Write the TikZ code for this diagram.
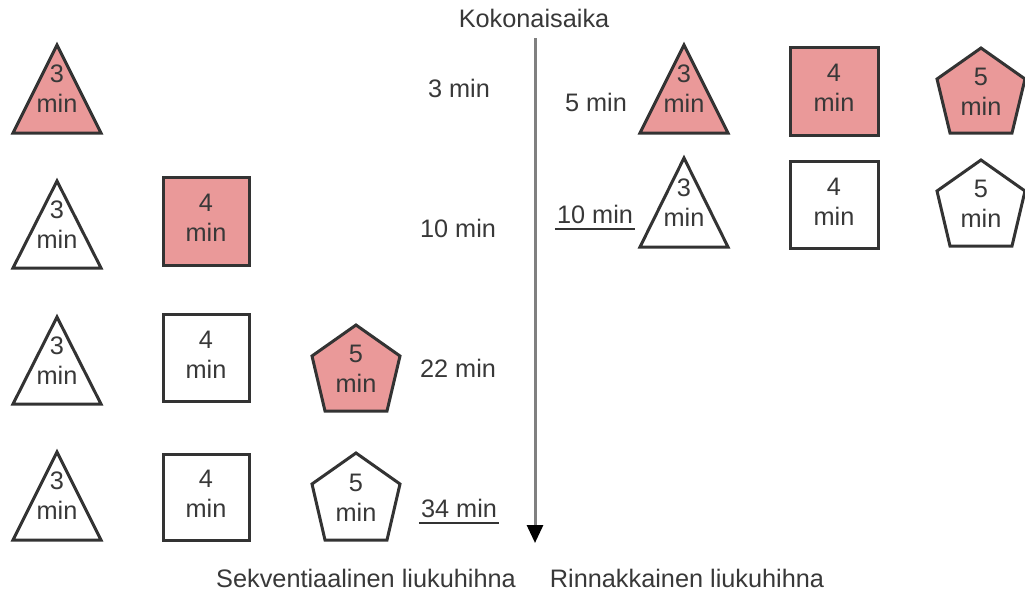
\documentclass[tikz,border=0pt]{standalone}
\usepackage{fontspec}
\setmainfont{Liberation Sans}
\usetikzlibrary{arrows.meta}

\definecolor{pinkfill}{HTML}{EA9999}
\definecolor{edge}{HTML}{333333}
\definecolor{ink}{HTML}{383838}
\definecolor{axisgray}{HTML}{808080}

\tikzset{
  shp/.style={draw=edge, line width=3pt, line join=miter},
  lbl/.style={font=\fontsize{25.3}{30}\selectfont, text=ink, align=center, inner sep=0pt},
  uline/.style={draw=edge, line width=2pt},
  axis/.style={draw=axisgray, line width=3pt, -{Triangle[color=black, length=18pt, width=16pt]}}
}

% triangle: centre x, apex y, base y, fill, node name
\newcommand\trishape[6]{%
  \draw[shp, fill=#4] (#1,#2) -- (#1+44,#3) -- (#1-44,#3) -- cycle;
  \node[lbl] (#5) at (#1,{(#2+#3)/2}) {3\\min};}
% square: left x, top y, right x, bottom y, fill, node name
\newcommand\sqshape[6]{%
  \draw[shp, fill=#5] (#1,#2) rectangle (#3,#4);
  \node[lbl] (#6) at ({(#1+#3)/2},{(#2+#4)/2-3}) {4\\min};}
% pentagon: centre x, top y, bottom y, fill, node name
\newcommand\pentshape[5]{%
  \draw[shp, fill=#4] (#1,#2) -- (#1+44,#2+31) -- (#1+31,#3) -- (#1-31,#3)
    -- (#1-44,#2+31) -- cycle;
  \node[lbl] (#5) at (#1,{(#2+#3)/2+1}) {5\\min};}

\begin{document}
\begin{tikzpicture}[x=1pt, y=-1pt]
\useasboundingbox (0,0) rectangle (1025,592);

% time axis
\node[lbl] (total) at (534,18) {Kokonaisaika};
\coordinate (axtop) at (535,38);
\coordinate (axbot) at (535,543);
\draw[axis] (axtop) -- (axbot);

% sequential pipeline
\trishape{57}{45}{133}{pinkfill}{s1a}{}
\trishape{57}{181}{268}{white}{s2a}{}
\sqshape{163}{177}{249}{265}{pinkfill}{s2b}
\trishape{57}{317}{404}{white}{s3a}{}
\sqshape{163}{314}{249}{401}{white}{s3b}
\pentshape{356}{325}{411}{pinkfill}{s3c}
\trishape{57}{452}{540}{white}{s4a}{}
\sqshape{163}{454}{249}{540}{white}{s4b}
\pentshape{356}{453}{540}{white}{s4c}

\node[lbl] (t3) at (459,88) {3 min};
\node[lbl] (t10) at (458,228) {10 min};
\node[lbl] (t22) at (458,368) {22 min};
\node[lbl] (t34) at (459,508) {34 min};
\draw[uline] ([xshift=-2pt, yshift=-6pt]t34.south west) -- ([xshift=2pt, yshift=-6pt]t34.south east);

% parallel pipeline
\trishape{684}{45}{133}{pinkfill}{p1a}{}
\sqshape{790}{47}{878}{135}{pinkfill}{p1b}
\pentshape{981}{48}{133}{pinkfill}{p1c}
\trishape{684}{158}{247}{white}{p2a}{}
\sqshape{790}{161}{878}{248}{white}{p2b}
\pentshape{981}{160}{246}{white}{p2c}

\node[lbl] (r5) at (596,102) {5 min};
\node[lbl] (r10) at (595,214) {10 min};
\draw[uline] ([xshift=-2pt, yshift=-6pt]r10.south west) -- ([xshift=2pt, yshift=-6pt]r10.south east);

% captions
\node[lbl] (seq) at (366,578) {Sekventiaalinen liukuhihna};
\node[lbl] (par) at (687,578) {Rinnakkainen liukuhihna};
\end{tikzpicture}
\end{document}
